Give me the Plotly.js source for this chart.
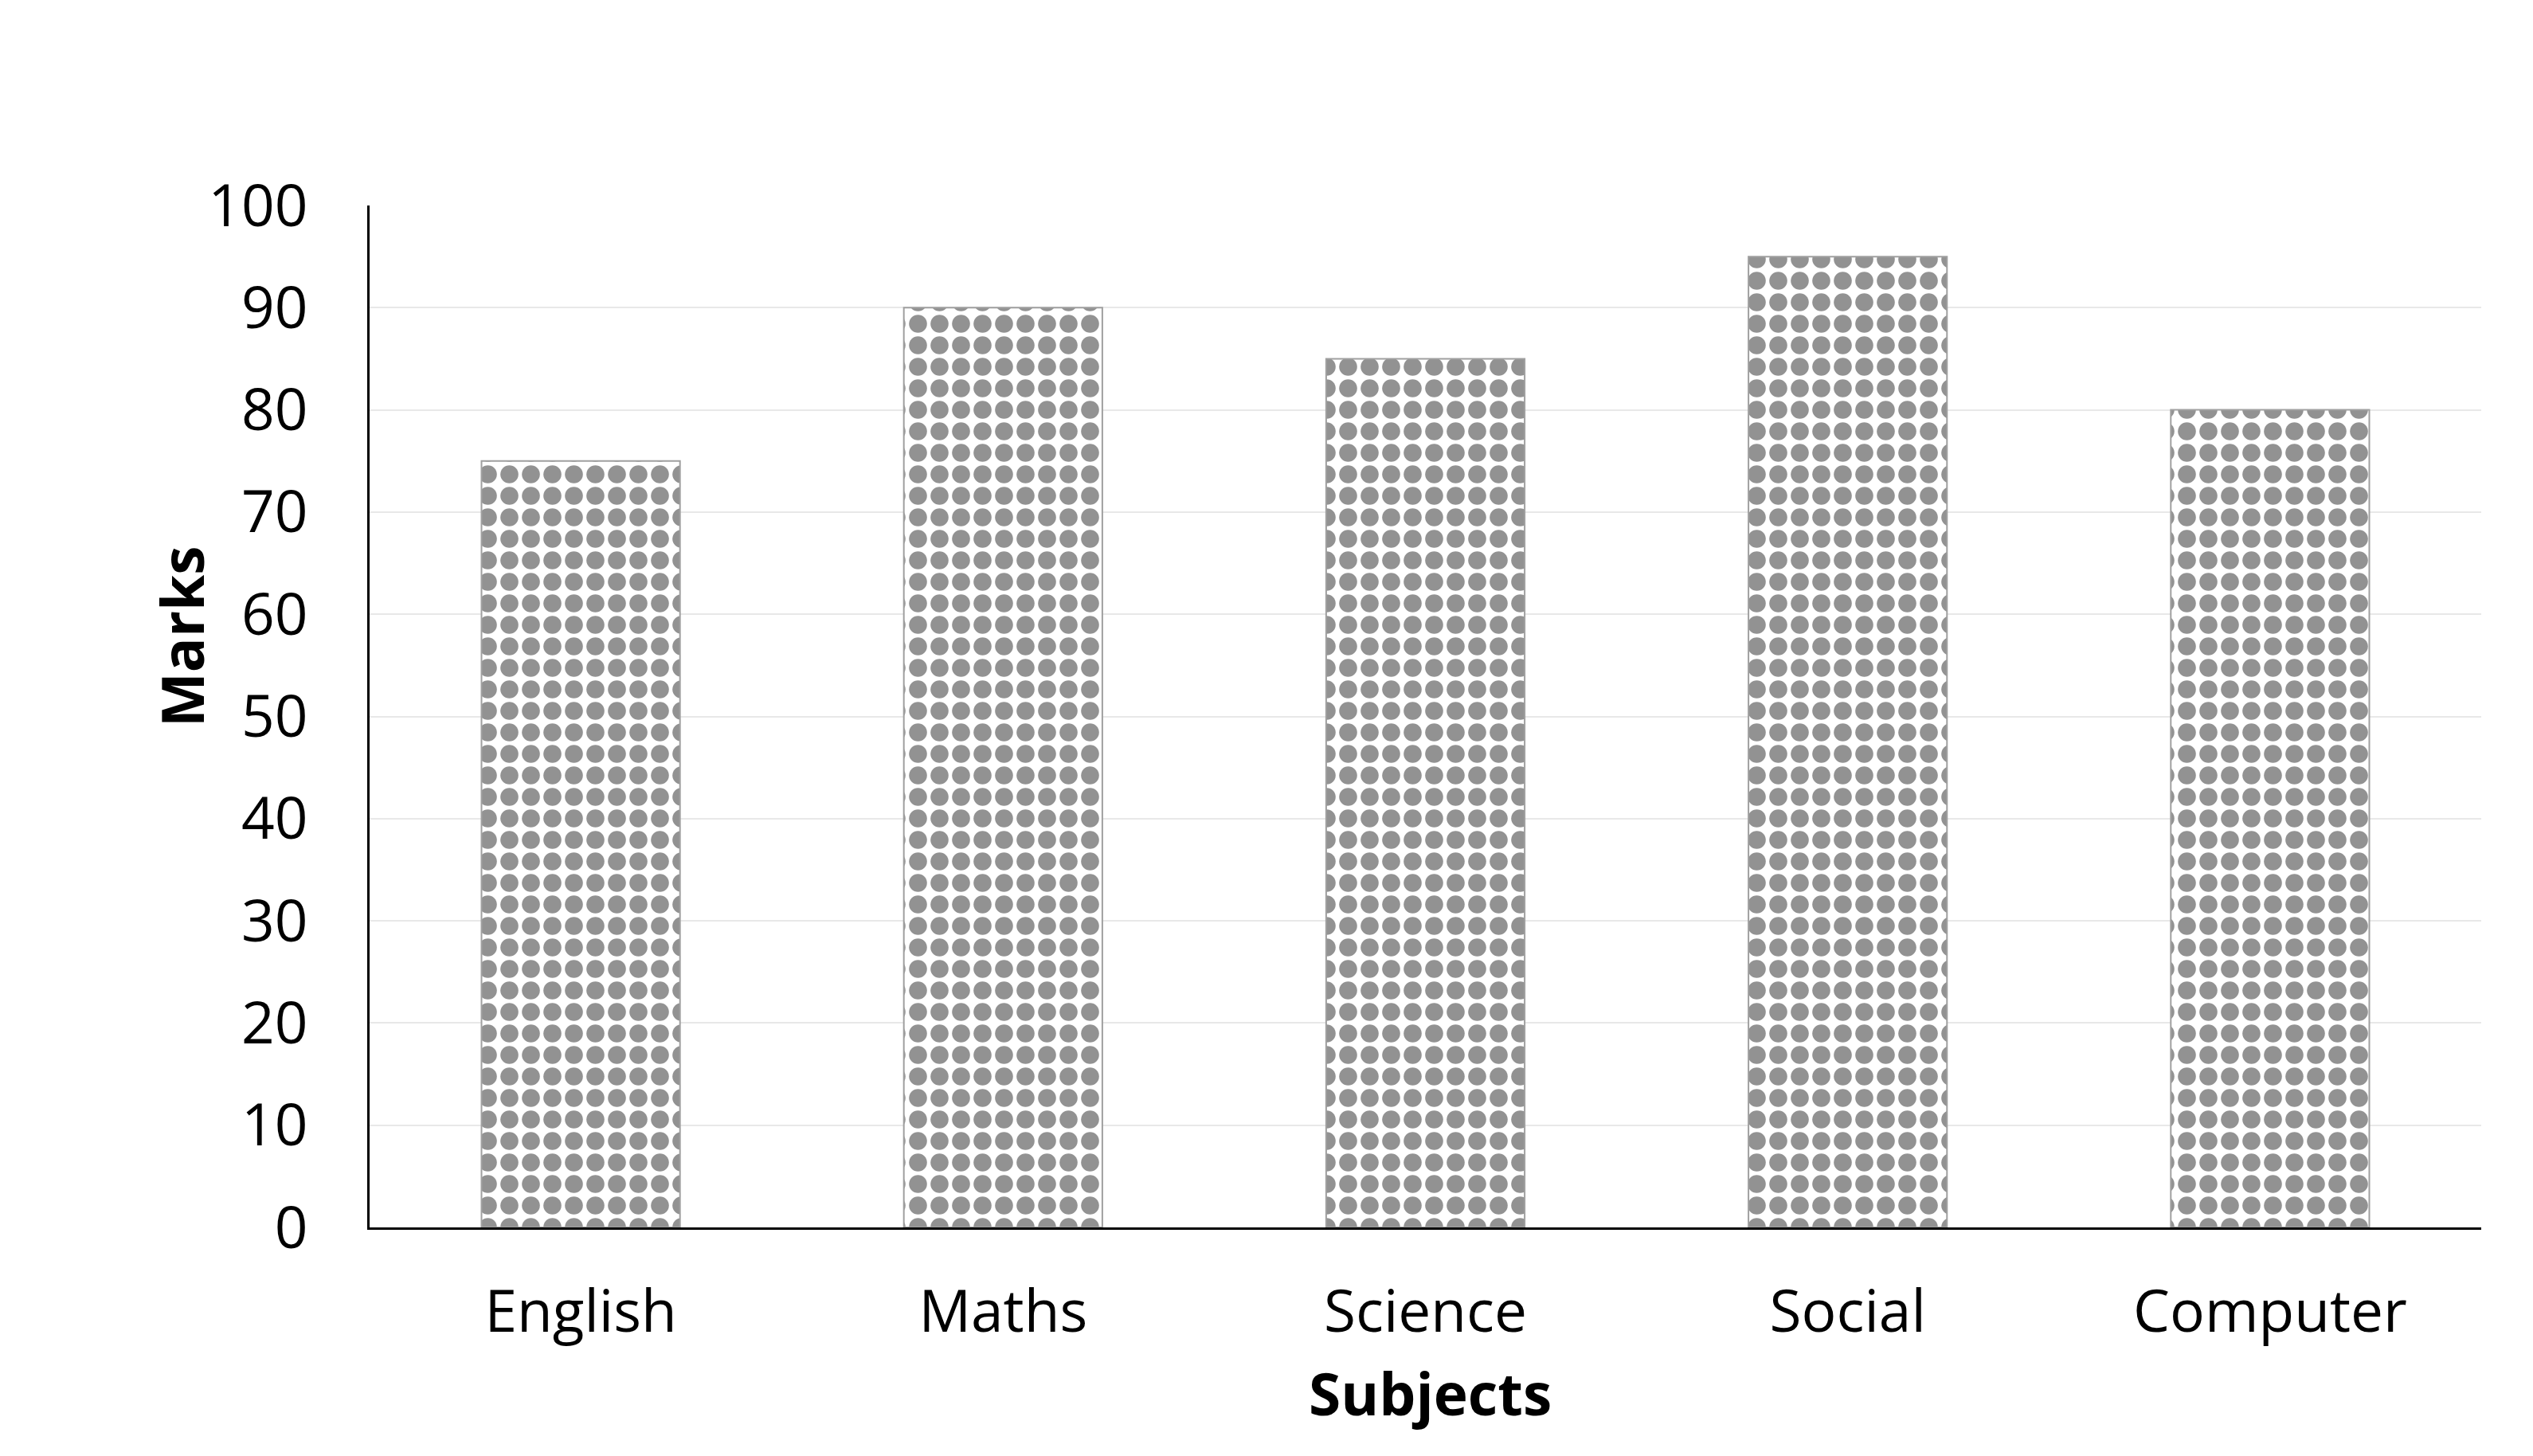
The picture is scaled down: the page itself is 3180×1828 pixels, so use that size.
<!DOCTYPE html>
<html>
<head>
<meta charset="utf-8">
<script src="https://cdn.plot.ly/plotly-3.0.1.min.js"></script>
<style>html,body{margin:0;padding:0;background:#fff;}#chart{width:3180px;height:1828px;}</style>
</head>
<body>
<div id="chart"></div>
<script>
const subjects = ["English", "Maths", "Science", "Social", "Computer"];
const marks = [75, 90, 85, 95, 80];
const yTicks = [0, 10, 20, 30, 40, 50, 60, 70, 80, 90, 100];

const font = "'Open Sans', 'Noto Sans', sans-serif";
const W = 3180, H = 1828;
const L = 464, R = 65, T = 258, B = 287;
const pw = W - L - R, ph = H - T - B;

Plotly.newPlot('chart', [{
  type: 'bar',
  x: subjects,
  y: marks,
  marker: {
    color: '#ffffff',
    line: {color: '#a0a0a0', width: 2},
    pattern: {shape: '.', fgcolor: '#929292', bgcolor: '#ffffff', size: 27, solidity: 0.55}
  },
  hoverinfo: 'skip'
}], {
  width: W, height: H,
  margin: {l: L, r: R, t: T, b: B, pad: 0},
  paper_bgcolor: '#ffffff', plot_bgcolor: '#ffffff',
  font: {family: font, color: '#000000', size: 73},
  showlegend: false,
  bargap: 0.53,
  xaxis: {
    type: 'category',
    showline: true, linecolor: '#000000', linewidth: 3,
    showgrid: false, ticks: '', ticklabelstandoff: 40,
    tickfont: {size: 73, family: font}
  },
  yaxis: {
    range: [0, 100], tickvals: yTicks, ticktext: yTicks.map(String),
    showline: true, linecolor: '#000000', linewidth: 3,
    showgrid: true, gridcolor: '#e8e8e8', gridwidth: 2,
    zeroline: false, ticks: '', ticklabelstandoff: 60,
    tickfont: {size: 73, family: font}
  },
  annotations: [
    {text: '<b>Subjects</b>', xref: 'paper', yref: 'paper', showarrow: false,
     x: (1795 - L) / pw, y: (H - B - 1748) / ph, xanchor: 'center', yanchor: 'middle',
     font: {size: 73, family: font, color: '#000000'}},
    {text: '<b>Marks</b>', xref: 'paper', yref: 'paper', showarrow: false, textangle: -90,
     x: (227 - L) / pw, y: (H - B - 799) / ph, xanchor: 'center', yanchor: 'middle',
     font: {size: 73, family: font, color: '#000000'}}
  ]
}, {staticPlot: true});
</script>
</body>
</html>
